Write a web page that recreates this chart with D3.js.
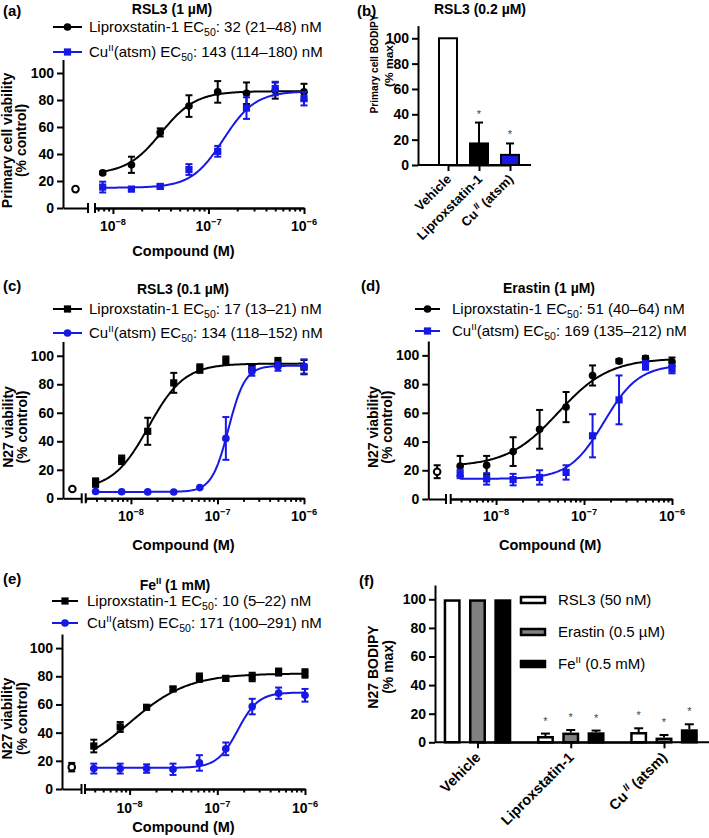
<!DOCTYPE html>
<html><head><meta charset="utf-8">
<script src="https://cdn.jsdelivr.net/npm/d3@7"></script>
<style>
body{margin:0;background:#fff}
svg{display:block}
text{font-family:"Liberation Sans",Arial,Helvetica,sans-serif}
</style>
</head><body>
<svg id="chart" width="709" height="838"></svg>
<script>
// ---------------- DATA ----------------
const concPrimary = [7.8125e-9, 1.5625e-8, 3.125e-8, 6.25e-8, 1.25e-7, 2.5e-7, 5e-7, 1e-6];
const concN27 = [3.90625e-9, 7.8125e-9, 1.5625e-8, 3.125e-8, 6.25e-8, 1.25e-7, 2.5e-7, 5e-7, 1e-6];
const xMajorTicks = [1e-8, 1e-7, 1e-6];
const xMajorExp = ["−8", "−7", "−6"];
const yTicks = [0, 20, 40, 60, 80, 100];

// (a) primary cells, RSL3 1 µM
const aLipro = [26, 32, 56, 75.5, 86, 85, 87, 86];
const aLiproErr = [1, 6, 3, 8, 8, 8, 6, 6];
const aCu = [15.5, 14, 16, 28.5, 42, 74, 88.5, 81];
const aCuErr = [4, 1.5, 1.5, 4, 4, 8, 5, 5];
const aVehicle = [14, 0];
const aFitLipro = [25, 86.5, 32e-9, 2.4];   // bottom, top, EC50, Hill
const aFitCu = [15, 86.5, 143e-9, 2.6];

// (c) N27, RSL3 0.1 µM
const cLipro = [11, 27, 47, 81, 91, 96.5, 92, 95.5, 92];
const cLiproErr = [3, 3, 9.5, 7, 3, 3, 1.5, 3, 5];
const cCu = [4.8, 4.6, 4.5, 4.4, 7.5, 42, 89, 92.5, 92.5];
const cCuErr = [0.5, 0.5, 0.5, 0.5, 0.5, 15, 3, 3, 5];
const cVehicle = [6.5, 0];
const cFitLipro = [6, 94.5, 16e-9, 2.1];
const cFitCu = [4.5, 93, 134e-9, 4.5];

// (d) N27, Erastin 1 µM
const dLipro = [23, 23.5, 33, 48.5, 64, 86, 96, 98, 95.5];
const dLiproErr = [7, 6.5, 10, 13.5, 10.5, 7, 1.5, 1.5, 3];
const dCu = [17.5, 14, 13.5, 15, 18.5, 44, 69, 93, 90.5];
const dCuErr = [3, 4, 4, 5, 5, 15, 17, 3, 3];
const dVehicle = [19, 4.5];
const dFitLipro = [22.5, 98, 51e-9, 1.5];
const dFitCu = [14, 93.5, 169e-9, 2.2];

// (e) N27, FeII 1 mM
const eLipro = [30.5, 44, 58, 71, 79, 78.5, 79.5, 83, 82];
const eLiproErr = [4.5, 3.5, 1.5, 1.5, 3, 1.5, 3, 2.5, 3];
const eCu = [14.5, 14.5, 14.5, 14, 18.5, 28.5, 58.5, 68, 66.5];
const eCuErr = [3.5, 3.5, 3, 4, 5.5, 4.5, 5.5, 4, 4.5];
const eVehicle = [15.5, 3];
const eFitLipro = [12, 82, 10e-9, 1.3];
const eFitCu = [15, 68.5, 171e-9, 3.7];

// (b) primary cell BODIPY
const bCategories = ["Vehicle", "Liproxstatin-1", "CuII(atsm)"];
const bValues = [100, 17, 8];
const bErrors = [0, 16.5, 9];
const bSignificant = [false, true, true];

// (f) N27 BODIPY
const fCategories = ["Vehicle", "Liproxstatin-1", "CuII(atsm)"];
const fSeriesNames = ["RSL3", "Erastin", "FeII"];
const fRSL3 = [100, 4.4, 7.2];
const fRSL3Err = [0, 1.7, 2.6];
const fErastin = [100, 6.8, 3.3];
const fErastinErr = [0, 1.8, 1.8];
const fFe = [100, 7, 9.1];
const fFeErr = [0, 1.2, 3.5];
const fSignificant = [false, true, true];

// ---------------- DRAWING ----------------
const svg = d3.select("#chart");
const BLUE = "#1717e6";
const AXW = 2;

function rich(sel, parts, size) {
  let shift = 0;
  parts.forEach(p => {
    const s = typeof p === "string" ? p : p[0];
    const kind = typeof p === "string" ? null : p[1];
    const t = sel.append("tspan").text(s);
    let target = 0, fs = null;
    if (kind === "sup" || kind === "supi") { target = -0.4 * size; fs = size * 0.66; }
    if (kind === "sub") { target = 0.22 * size; fs = size * 0.7; }
    if (target - shift !== 0) t.attr("dy", target - shift);
    shift = target;
    if (fs) t.attr("font-size", fs);
    if (kind === "supi") t.attr("font-style", "italic");
  });
}

function styleAxis(g, fontSize) {
  g.selectAll("path.domain").attr("stroke", "#000").attr("stroke-width", AXW);
  g.selectAll(".tick line").attr("stroke", "#000").attr("stroke-width", AXW);
  g.selectAll(".tick text").attr("font-size", fontSize).attr("font-weight", "bold")
    .attr("font-family", '"Liberation Sans",Arial,sans-serif').attr("fill", "#000");
}

function yLabel(g, lines, xs, cy, size, lengths) {
  lines.forEach((ln, i) => {
    const t = g.append("text")
      .attr("transform", `translate(${xs[i]},${cy}) rotate(-90)`)
      .attr("text-anchor", "middle").attr("dy", "0.35em")
      .attr("font-size", size).attr("font-weight", "bold").attr("fill", "#000").text(ln);
    if (lengths) t.attr("textLength", lengths[i]).attr("lengthAdjust", "spacingAndGlyphs");
  });
}

function logistic(p, c) { return p[0] + (p[1] - p[0]) / (1 + Math.pow(p[2] / c, p[3])); }

const markerPath = (type, size) => d3.symbol().type(type === "circle" ? d3.symbolCircle : d3.symbolSquare).size(size)();

function dosePanel(P) {
  const g = svg.append("g");
  const y = d3.scaleLinear().domain([0, 110]).range([P.y0, P.yTop]);
  const x = d3.scaleLog().domain([P.xLo, 1e-6]).range([P.rightStart, P.rightEnd]);
  const xv = d3.scalePoint().domain(["Vehicle"]).range([P.yAxisX, P.leftEnd]).padding(0.5);

  const ya = g.append("g").attr("transform", `translate(${P.yAxisX},0)`)
    .call(d3.axisLeft(y).tickValues(yTicks).tickSize(6).tickSizeOuter(0).tickPadding(3));
  styleAxis(ya, 14);

  const xl = g.append("g").attr("transform", `translate(0,${P.y0})`)
    .call(d3.axisBottom(xv).tickValues([]).tickSizeOuter(0));
  styleAxis(xl, 14);
  const minor = x.ticks().filter(t => !xMajorTicks.some(m => Math.abs(m - t) / m < 1e-6));
  const xm = g.append("g").attr("transform", `translate(0,${P.y0})`)
    .call(d3.axisBottom(x).tickValues(minor).tickSize(3.5).tickSizeOuter(0).tickFormat(""));
  styleAxis(xm, 14);
  const xM = g.append("g").attr("transform", `translate(0,${P.y0})`)
    .call(d3.axisBottom(x).tickValues(xMajorTicks).tickSize(6).tickSizeOuter(0).tickFormat(""));
  styleAxis(xM, 14);
  [P.leftEnd, P.rightStart].forEach(bx => {
    g.append("line").attr("x1", bx).attr("x2", bx).attr("y1", P.y0 - 5).attr("y2", P.y0 + 5)
      .attr("stroke", "#000").attr("stroke-width", AXW);
  });
  xMajorTicks.forEach((t, i) => {
    const tx = g.append("text").attr("x", x(t)).attr("y", P.tickLabelY)
      .attr("text-anchor", "middle").attr("font-size", 14).attr("font-weight", "bold").attr("fill", "#000");
    rich(tx, ["10", [xMajorExp[i], "sup"]], 14);
  });
  g.append("text").attr("x", (P.yAxisX + P.rightEnd) / 2).attr("y", P.xTitleY)
    .attr("text-anchor", "middle").attr("font-size", 14.5).attr("font-weight", "bold").attr("fill", "#000").text("Compound (M)");

  yLabel(g, P.yLabel, P.yLabelX, (P.y0 + y(100)) / 2, 14);

  g.append("text").attr("x", P.letter[0]).attr("y", P.letter[1]).attr("font-size", 15).attr("font-weight", "bold").attr("fill", "#000").text(P.letterText);
  const tt = g.append("text").attr("x", P.titleX).attr("y", P.titleY).attr("text-anchor", "middle")
    .attr("font-size", 14).attr("font-weight", "bold").attr("fill", "#000");
  rich(tt, P.title, 14);

  P.series.forEach(s => {
    const conc = s.conc;
    const lo = Math.log10(conc[0]), hi = Math.log10(conc[conc.length - 1]);
    const fitPts = d3.range(0, 161).map(i => { const c = Math.pow(10, lo + (hi - lo) * i / 160); return [c, logistic(s.fit, c)]; });
    g.append("path").attr("d", d3.line().x(d => x(d[0])).y(d => y(d[1]))(fitPts))
      .attr("fill", "none").attr("stroke", s.color).attr("stroke-width", 2);
  });
  P.series.forEach(s => {
    s.vals.forEach((v, i) => {
      const cx = x(s.conc[i]);
      const e = s.errs[i];
      if (e > 0.8) {
        const y1 = y(v - e), y2 = y(v + e);
        g.append("line").attr("x1", cx).attr("x2", cx).attr("y1", y1).attr("y2", y2).attr("stroke", s.color).attr("stroke-width", 2);
        [y1, y2].forEach(yy => g.append("line").attr("x1", cx - 3.5).attr("x2", cx + 3.5).attr("y1", yy).attr("y2", yy).attr("stroke", s.color).attr("stroke-width", 2));
      }
      g.append("path").attr("d", markerPath(s.marker, s.marker === "circle" ? 46 : 52))
        .attr("transform", `translate(${cx},${y(v)})`).attr("fill", s.color);
    });
  });
  const vx = xv("Vehicle"), vv = P.vehicle[0], ve = P.vehicle[1];
  if (ve > 0) {
    g.append("line").attr("x1", vx).attr("x2", vx).attr("y1", y(vv - ve)).attr("y2", y(vv + ve)).attr("stroke", "#000").attr("stroke-width", 2);
    [vv - ve, vv + ve].forEach(q => g.append("line").attr("x1", vx - 3.5).attr("x2", vx + 3.5).attr("y1", y(q)).attr("y2", y(q)).attr("stroke", "#000").attr("stroke-width", 2));
  }
  g.append("circle").attr("cx", vx).attr("cy", y(vv)).attr("r", 3.3).attr("fill", "#fff").attr("stroke", "#000").attr("stroke-width", 2);

  P.series.forEach((s, i) => {
    const ly = P.legend.ys[i];
    g.append("line").attr("x1", P.legend.x1).attr("x2", P.legend.x2).attr("y1", ly).attr("y2", ly).attr("stroke", s.color).attr("stroke-width", 2);
    g.append("path").attr("d", markerPath(s.marker, s.marker === "circle" ? 46 : 52))
      .attr("transform", `translate(${(P.legend.x1 + P.legend.x2) / 2},${ly})`).attr("fill", s.color);
    const lt = g.append("text").attr("x", P.legend.tx).attr("y", ly).attr("dy", "0.35em").attr("font-size", 15).attr("fill", "#000");
    rich(lt, s.label, 15);
  });
}

const liproLabel = ec => ["Liproxstatin-1 EC", ["50", "sub"], ": " + ec + " nM"];
const cuLabel = ec => ["Cu", ["II", "sup"], "(atsm) EC", ["50", "sub"], ": " + ec + " nM"];

dosePanel({
  letterText: "(a)", letter: [3, 16], title: ["RSL3 (1 µM)"], titleX: 172, titleY: 14,
  yAxisX: 63, y0: 208, yTop: 59.5, leftEnd: 88, rightStart: 95, rightEnd: 304, xLo: 6.49e-9,
  tickLabelY: 231, xTitleY: 256, yLabel: ["Primary cell viability", "(% control)"], yLabelX: [7, 21],
  legend: { x1: 53, x2: 82, tx: 89, ys: [27, 52] }, vehicle: aVehicle,
  series: [
    { conc: concPrimary, vals: aLipro, errs: aLiproErr, fit: aFitLipro, color: "#000", marker: "circle", label: liproLabel("32 (21–48)") },
    { conc: concPrimary, vals: aCu, errs: aCuErr, fit: aFitCu, color: BLUE, marker: "square", label: cuLabel("143 (114–180)") }
  ]
});
dosePanel({
  letterText: "(c)", letter: [3, 291], title: ["RSL3 (0.1 µM)"], titleX: 183, titleY: 294,
  yAxisX: 63, y0: 498.3, yTop: 341.5, leftEnd: 81.7, rightStart: 85.7, rightEnd: 304, xLo: 3.0e-9,
  tickLabelY: 521, xTitleY: 550, yLabel: ["N27 viability", "(% control)"], yLabelX: [8.5, 22.5],
  legend: { x1: 53, x2: 82, tx: 89, ys: [309, 333] }, vehicle: cVehicle,
  series: [
    { conc: concN27, vals: cLipro, errs: cLiproErr, fit: cFitLipro, color: "#000", marker: "square", label: liproLabel("17 (13–21)") },
    { conc: concN27, vals: cCu, errs: cCuErr, fit: cFitCu, color: BLUE, marker: "circle", label: cuLabel("134 (118–152)") }
  ]
});
dosePanel({
  letterText: "(d)", letter: [361, 291], title: ["Erastin (1 µM)"], titleX: 549, titleY: 293,
  yAxisX: 428.3, y0: 499, yTop: 341, leftEnd: 446, rightStart: 450.7, rightEnd: 672, xLo: 3.05e-9,
  tickLabelY: 521, xTitleY: 550, yLabel: ["N27 viability", "(% control)"], yLabelX: [373, 387.5],
  legend: { x1: 415, x2: 440, tx: 452, ys: [309, 331] }, vehicle: dVehicle,
  series: [
    { conc: concN27, vals: dLipro, errs: dLiproErr, fit: dFitLipro, color: "#000", marker: "circle", label: liproLabel("51 (40–64)") },
    { conc: concN27, vals: dCu, errs: dCuErr, fit: dFitCu, color: BLUE, marker: "square", label: cuLabel("169 (135–212)") }
  ]
});
dosePanel({
  letterText: "(e)", letter: [3, 584], title: ["Fe", ["II", "sup"], " (1 mM)"], titleX: 175, titleY: 590,
  yAxisX: 62, y0: 789, yTop: 634, leftEnd: 81.5, rightStart: 85, rightEnd: 305, xLo: 3.1e-9,
  tickLabelY: 813, xTitleY: 832, yLabel: ["N27 viability", "(% control)"], yLabelX: [7.5, 22],
  legend: { x1: 52, x2: 78, tx: 87, ys: [601, 623] }, vehicle: eVehicle,
  series: [
    { conc: concN27, vals: eLipro, errs: eLiproErr, fit: eFitLipro, color: "#000", marker: "square", label: liproLabel("10 (5–22)") },
    { conc: concN27, vals: eCu, errs: eCuErr, fit: eFitCu, color: BLUE, marker: "circle", label: cuLabel("171 (100–291)") }
  ]
});

function catLabel(sel, c, size) {
  if (c === "CuII(atsm)") rich(sel, ["Cu", [" II", "supi"], " (atsm)"], size);
  else sel.text(c);
}

// ---- (b)
(function () {
  const g = svg.append("g");
  const P = { yAxisX: 418, y0: 165, yTop: 25.6, xEnd: 531 };
  const y = d3.scaleLinear().domain([0, 110]).range([P.y0, P.yTop]);
  const x = d3.scalePoint().domain(bCategories).range([448, 510]);
  const bw = 20;
  const ya = g.append("g").attr("transform", `translate(${P.yAxisX},0)`)
    .call(d3.axisLeft(y).tickValues(yTicks).tickSize(6).tickSizeOuter(0).tickPadding(3));
  styleAxis(ya, 14);
  const fills = ["#fff", "#000", BLUE];
  bCategories.forEach((c, i) => {
    g.append("rect").attr("x", x(c) - bw / 2 + 1).attr("width", bw - 2)
      .attr("y", y(bValues[i])).attr("height", P.y0 - y(bValues[i]))
      .attr("fill", fills[i]).attr("stroke", "#000").attr("stroke-width", 2);
    if (bErrors[i] > 0) {
      const top = y(bValues[i] + bErrors[i]);
      g.append("line").attr("x1", x(c)).attr("x2", x(c)).attr("y1", y(bValues[i])).attr("y2", top).attr("stroke", "#000").attr("stroke-width", 2);
      g.append("line").attr("x1", x(c) - 4).attr("x2", x(c) + 4).attr("y1", top).attr("y2", top).attr("stroke", "#000").attr("stroke-width", 2);
      if (bSignificant[i]) g.append("text").attr("x", x(c)).attr("y", top - 5).attr("text-anchor", "middle").attr("font-size", 11).attr("fill", "#444").text("*");
    }
  });
  const xa = g.append("g").attr("transform", `translate(0,${P.y0})`)
    .call(d3.axisBottom(x).tickSize(6).tickSizeOuter(0).tickFormat(""));
  styleAxis(xa, 13);
  g.append("line").attr("x1", P.yAxisX).attr("x2", P.xEnd).attr("y1", P.y0).attr("y2", P.y0).attr("stroke", "#000").attr("stroke-width", AXW);
  bCategories.forEach(c => {
    const t = g.append("text").attr("transform", `translate(${x(c) + 4},${P.y0 + 15}) rotate(-45)`)
      .attr("text-anchor", "end").attr("font-size", 13).attr("font-weight", "bold").attr("fill", "#000");
    catLabel(t, c, 13);
  });
  yLabel(g, ["Primary cell BODIPY", "(% max)"], [374, 389], 64, 11.5, [99, 46]);
  g.append("text").attr("x", 357).attr("y", 16).attr("font-size", 15).attr("font-weight", "bold").attr("fill", "#000").text("(b)");
  g.append("text").attr("x", 480).attr("y", 14).attr("text-anchor", "middle").attr("font-size", 14).attr("font-weight", "bold").attr("fill", "#000").text("RSL3 (0.2 µM)");
})();

// ---- (f)
(function () {
  const g = svg.append("g");
  const P = { yAxisX: 435, y0: 742.3, yTop: 585, xEnd: 709 };
  const y = d3.scaleLinear().domain([0, 110]).range([P.y0, P.yTop]);
  const x = d3.scalePoint().domain(fCategories).range([477.5, 664]);
  const xs = d3.scaleBand().domain(fSeriesNames).range([-33.8, 33.8]).paddingInner(0.33);
  const series = [
    { name: "RSL3", vals: fRSL3, errs: fRSL3Err, fill: "#fff", label: ["RSL3 (50 nM)"] },
    { name: "Erastin", vals: fErastin, errs: fErastinErr, fill: "#808080", label: ["Erastin (0.5 µM)"] },
    { name: "FeII", vals: fFe, errs: fFeErr, fill: "#000", label: ["Fe", ["II", "sup"], " (0.5 mM)"] }
  ];
  const ya = g.append("g").attr("transform", `translate(${P.yAxisX},0)`)
    .call(d3.axisLeft(y).tickValues(yTicks).tickSize(6).tickSizeOuter(0).tickPadding(3));
  styleAxis(ya, 14);
  series.forEach(s => {
    fCategories.forEach((c, i) => {
      const bx = x(c) + xs(s.name);
      const bw = xs.bandwidth();
      g.append("rect").attr("x", bx + 1.25).attr("width", bw - 2.5)
        .attr("y", y(s.vals[i]) + 1.25).attr("height", Math.max(0, P.y0 - y(s.vals[i]) - 1.25))
        .attr("fill", s.fill).attr("stroke", "#000").attr("stroke-width", 2.5);
      if (s.errs[i] > 0) {
        const cx = bx + bw / 2, top = y(s.vals[i] + s.errs[i]);
        g.append("line").attr("x1", cx).attr("x2", cx).attr("y1", y(s.vals[i])).attr("y2", top).attr("stroke", "#000").attr("stroke-width", 2);
        g.append("line").attr("x1", cx - 4.5).attr("x2", cx + 4.5).attr("y1", top).attr("y2", top).attr("stroke", "#000").attr("stroke-width", 2);
        if (fSignificant[i]) g.append("text").attr("x", cx).attr("y", top - 9).attr("text-anchor", "middle").attr("font-size", 11).attr("fill", "#444").text("*");
      }
    });
  });
  const xa = g.append("g").attr("transform", `translate(0,${P.y0})`)
    .call(d3.axisBottom(x).tickSize(6).tickSizeOuter(0).tickFormat(""));
  styleAxis(xa, 13);
  g.append("line").attr("x1", P.yAxisX).attr("x2", P.xEnd).attr("y1", P.y0).attr("y2", P.y0).attr("stroke", "#000").attr("stroke-width", AXW);
  fCategories.forEach(c => {
    const t = g.append("text").attr("transform", `translate(${x(c) + 4},${P.y0 + 16}) rotate(-45)`)
      .attr("text-anchor", "end").attr("font-size", 14.5).attr("font-weight", "bold").attr("fill", "#000");
    catLabel(t, c, 14.5);
  });
  yLabel(g, ["N27 BODIPY", "(% max)"], [373, 388], 667, 14);
  g.append("text").attr("x", 359).attr("y", 586).attr("font-size", 15).attr("font-weight", "bold").attr("fill", "#000").text("(f)");
  const ly = [600, 632, 664];
  series.forEach((s, i) => {
    g.append("rect").attr("x", 521).attr("y", ly[i] - 3).attr("width", 24).attr("height", 6)
      .attr("fill", s.fill).attr("stroke", "#000").attr("stroke-width", 2.5);
    const t = g.append("text").attr("x", 558).attr("y", ly[i]).attr("dy", "0.35em").attr("font-size", 15).attr("fill", "#000");
    rich(t, s.label, 15);
  });
})();
</script>
</body></html>
